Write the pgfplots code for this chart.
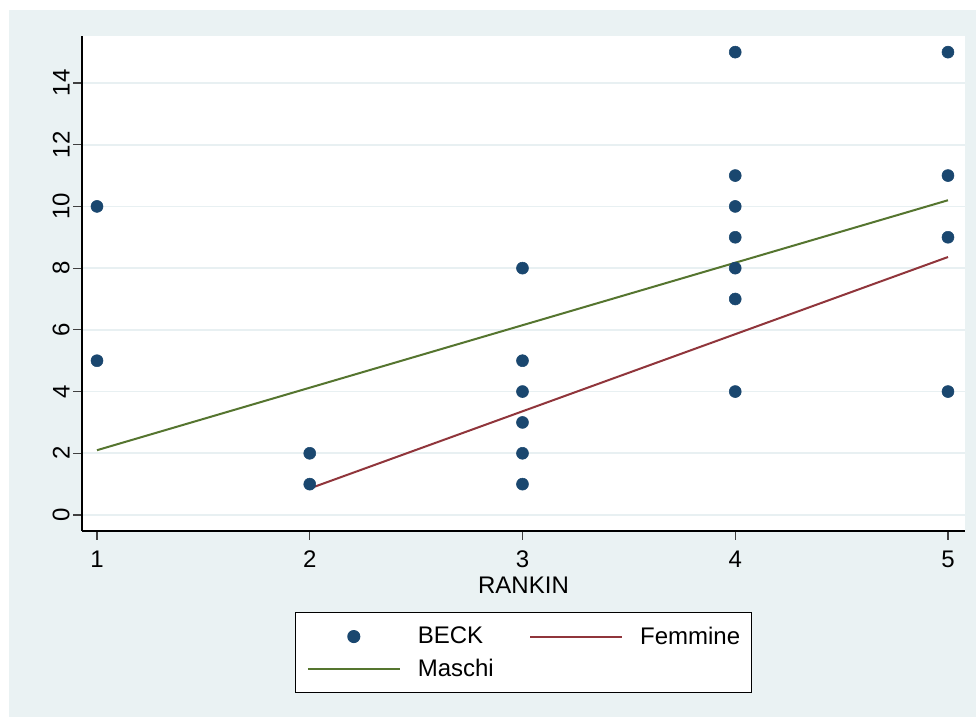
\documentclass[border=0pt]{standalone}
\usepackage{pgfplots}
\pgfplotsset{compat=1.18}
\usepackage{fontspec}
\setmainfont{Liberation Sans}
\definecolor{bgc}{RGB}{234,242,243}
\definecolor{gridc}{RGB}{232,240,242}
\definecolor{navyc}{RGB}{26,71,111}
\definecolor{maroonc}{RGB}{144,53,59}
\definecolor{greenc}{RGB}{85,117,47}
\newcommand{\bigf}{\fontsize{18}{21.6}\selectfont}
\pgfplotsset{
  linelegend/.style={legend image code/.code={\draw[##1] (0pt,0pt) -- (69pt,0pt);}},
  marklegend/.style={legend image code/.code={\path[draw=none,fill=none] (0pt,0pt) (69pt,0pt); \draw[##1,only marks] plot coordinates {(34.5pt,0pt)};}},
}
\begin{document}
\begin{tikzpicture}
\useasboundingbox (0pt,0pt) rectangle (732pt,537.75pt);
\fill[white] (0pt,0pt) rectangle (732pt,537.75pt);
\fill[bgc] (6.75pt,0pt) rectangle (732pt,530.25pt);
\begin{axis}[
  at={(61.5pt,139.5pt)}, anchor=south west,
  scale only axis, width=662.25pt, height=371.25pt,
  xmin=0.9295, xmax=5.08, ymin=-0.5185, ymax=15.523,
  axis background/.style={fill=white},
  axis x line*=bottom, axis y line*=left,
  axis line style={-, black, line width=1pt},
  xtick={1,2,3,4,5}, ytick={0,2,4,6,8,10,12,14},
  tick align=outside, major tick length=6.5pt,
  tick style={black!75, line width=0.8pt},
  ymajorgrids, grid style={gridc, line width=1.3pt},
  /pgf/number format/assume math mode=true,
  xticklabel style={font=\bigf, anchor=north, inner sep=0pt},
  yticklabel style={font=\bigf, rotate=90, anchor=south, inner sep=0pt},
  xticklabel shift=8pt, yticklabel shift=2.5pt,
  xlabel={RANKIN},
  xlabel style={font=\bigf, at={(axis description cs:0.5,0)}, anchor=north, yshift=-34.3pt, inner sep=0pt},
  legend columns=2,
  legend style={font=\bigf, at={(0.5,0)}, anchor=north, yshift=-60.75pt,
    draw=black, line width=0.8pt, fill=white, inner xsep=8.75pt, inner ysep=10.75pt,
    row sep=9.5pt, nodes={inner sep=0pt},
    /tikz/every odd column/.append style={column sep=12.75pt},
    /tikz/every even column/.append style={column sep=26.5pt}},
  legend cell align=left,
]
\addplot[only marks, mark=*, mark size=4.5pt, color=navyc, fill=navyc, marklegend]
  table {
x y
1 10
1 5
2 2
2 1
3 8
3 5
3 4
3 3
3 2
3 1
4 15
4 11
4 10
4 9
4 8
4 7
4 4
5 15
5 11
5 9
5 4
};
\addlegendentry{BECK}
\addplot[color=maroonc, line width=1.5pt, no marks, linelegend]
  coordinates {(2,0.86) (5,8.36)};
\addlegendentry{Femmine}
\addplot[color=greenc, line width=1.5pt, no marks, linelegend]
  coordinates {(1,2.1) (5,10.2)};
\addlegendentry{Maschi}
\end{axis}
\end{tikzpicture}
\end{document}
